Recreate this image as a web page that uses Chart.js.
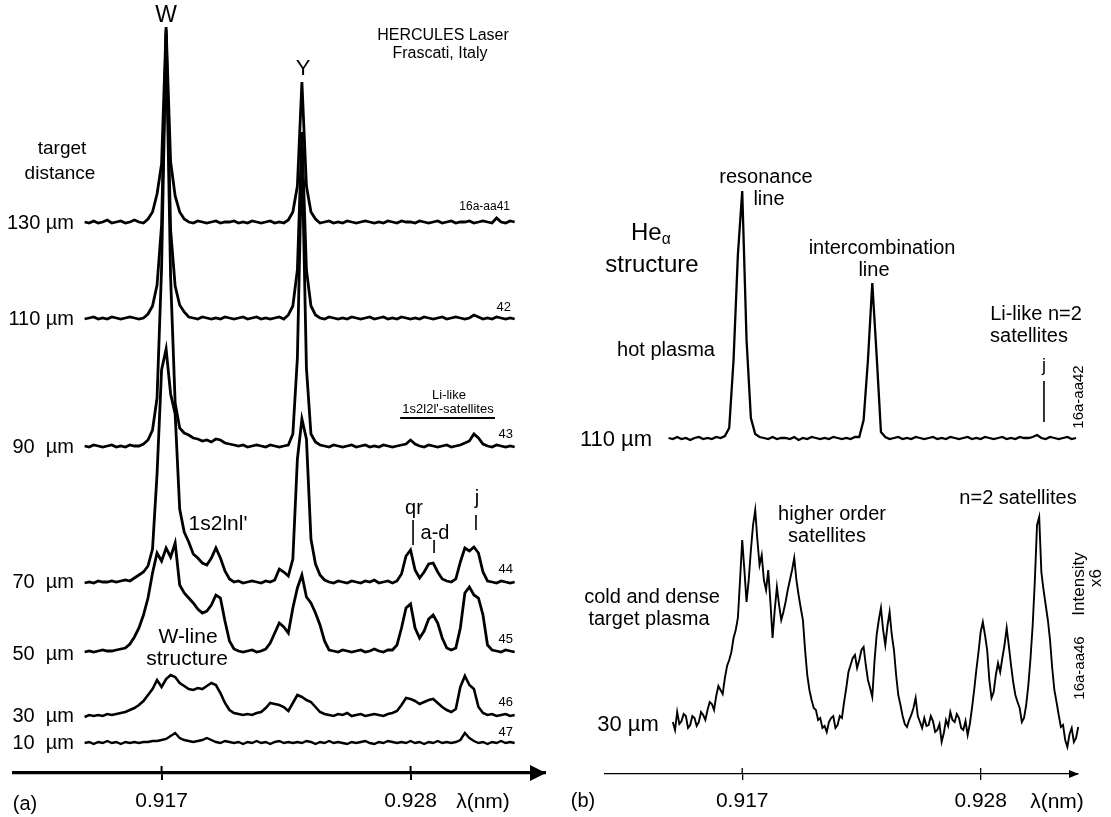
<!DOCTYPE html>
<html>
<head>
<meta charset="utf-8">
<script src="https://cdn.jsdelivr.net/npm/chart.js@4.4.1/dist/chart.umd.min.js"></script>
<style>
  body { margin: 0; background: #fff; }
  #wrap { position: relative; width: 1111px; height: 817px; overflow: hidden;
          font-family: "Liberation Sans", Arial, sans-serif; color: #000; }
  canvas { position: absolute; top: 0; }
  #chartA { left: 0; }
  #chartB { left: 560px; }
  .lbl { position: absolute; white-space: pre; line-height: 1; transform: translate(-50%, -50%); }
  .lbl.r { transform: translate(-100%, -50%); }
  .lbl.l { transform: translate(0, -50%); }
  .lbl.rot { transform: translate(-50%, -50%) rotate(-90deg); }
  .lbl sub { font-size: 65%; vertical-align: -0.25em; }
</style>
</head>
<body>
<div id="wrap">
  <canvas id="chartA" width="560" height="817"></canvas>
  <canvas id="chartB" width="551" height="817"></canvas>
</div>
<script>
// wavelength sampling (nm)
const lamStart = 0.9136;
const lam = Array.from({ length: 96 }, (_, i) => +(lamStart + 0.0002 * i).toFixed(4));
const lamFine = Array.from({ length: 192 }, (_, i) => +(lamStart + 0.0001 * i).toFixed(4));

const tickValues = [0.917, 0.928];

// panel (a): target distance series, intensity above each trace baseline
const distancesA = ["130", "110", "90", "70", "50", "30", "10"];
const t130 = [2,1,3,1,2,4,1,2,3,1,2,4,
  2,1,5,12,30,60,197,62,28,12,5,2,
  1,3,2,1,2,3,1,2,2,3,1,2,
  1,3,2,1,2,3,1,2,1,4,12,38,
  142,38,12,5,1,2,3,1,2,1,3,2,
  1,2,3,2,1,2,1,3,2,1,3,2,
  2,1,3,2,1,2,3,1,2,3,1,2,
  2,3,1,2,3,2,1,6,2,1,3,2];
const t110 = [1,2,3,1,2,1,3,2,1,2,3,2,
  1,2,6,14,35,95,290,90,34,15,8,3,
  2,1,3,2,1,2,1,3,2,1,2,3,
  1,2,3,1,2,1,2,3,1,5,14,50,
  188,50,14,5,2,1,3,2,1,2,1,3,
  2,1,2,3,1,2,3,1,2,1,3,2,
  1,2,1,3,2,1,2,3,1,2,3,2,
  1,2,5,3,1,2,1,3,2,1,2,1];
const t90 = [2,1,3,2,1,2,3,1,2,1,3,2,
  2,4,8,18,50,180,415,170,45,20,15,13,
  10,9,7,8,6,9,8,5,4,3,2,3,
  1,2,3,2,1,3,2,1,2,3,14,90,
  300,80,14,6,3,2,1,3,2,1,2,3,
  1,2,3,1,2,1,3,2,1,2,3,4,
  8,4,2,1,3,2,1,2,3,1,2,3,
  5,7,14,10,4,2,1,3,2,1,2,1];
const t70 = [1,2,1,3,2,2,3,2,3,4,3,6,
  9,12,18,35,110,214,235,190,170,75,52,42,
  30,26,21,19,26,36,26,13,5,2,3,1,
  2,3,2,1,3,2,4,15,12,8,25,125,
  165,145,45,20,9,4,2,1,3,2,1,3,
  2,1,3,2,4,1,2,3,1,3,10,28,
  34,14,6,12,20,21,12,5,3,2,5,22,
  36,33,37,31,12,3,2,1,3,2,1,2];
const t50 = [1,2,1,2,3,2,2,3,4,5,9,16,
  25,38,55,80,100,92,105,96,110,68,60,55,
  50,44,40,42,48,58,55,32,12,4,2,1,
  2,3,1,2,4,10,20,30,26,20,45,65,
  78,56,50,40,28,12,3,2,1,3,2,1,
  2,3,1,2,4,2,1,3,3,8,25,45,
  49,25,15,22,34,38,30,15,5,3,5,25,
  60,66,58,55,38,8,3,2,1,3,2,1];
const t30 = [0,2,1,2,1,3,2,3,4,5,7,9,
  12,16,22,28,37,30,38,42,40,34,31,28,
  27,29,28,31,34,32,24,14,7,4,3,2,
  3,2,4,5,9,14,13,12,10,6,14,22,
  20,17,15,10,5,3,2,1,3,2,4,1,
  2,3,1,2,3,2,1,3,4,6,12,19,
  18,16,13,15,17,18,14,10,7,5,8,30,
  41,32,28,10,4,2,3,1,2,3,1,2];
const t10 = [1,2,0,2,1,3,1,2,0,2,1,2,
  1,2,2,3,3,4,5,8,11,6,4,3,
  2,3,4,6,4,2,1,3,2,1,2,0,
  2,1,3,1,2,0,2,3,1,2,1,2,
  1,3,2,0,2,1,3,1,2,1,0,2,
  1,2,3,1,0,2,1,3,2,1,2,1,
  3,1,2,0,2,1,3,1,2,1,2,4,
  11,6,3,1,2,0,2,1,3,1,2,1];
const offsetsA = [549, 453, 325, 189, 120, 56, 29];

// panel (b): 110 um hot plasma (coarse grid) and 30 um x6 dense plasma (fine grid)
const r110 = [2,1,3,1,2,0,2,3,1,2,1,3,
  2,4,12,80,185,249,100,22,6,3,2,1,
  3,1,2,2,1,3,0,2,1,3,2,1,
  2,1,3,2,1,2,1,3,3,20,80,157,
  85,8,3,1,2,3,1,2,1,3,2,1,
  2,3,1,2,1,3,2,1,2,3,1,2,
  1,3,2,1,2,3,1,2,1,3,2,2,
  3,5,2,1,3,2,1,2,3,1,2,null];
const r30 = [null,null,8,0,18,6,9,16,14,2,
  5,14,12,4,8,18,15,10,20,28,
  26,20,34,44,40,36,52,64,70,78,
  92,100,112,150,190,160,128,150,180,205,
  220,190,165,175,150,140,160,128,92,120,
  143,125,110,118,128,140,150,160,172,150,
  135,122,110,80,55,40,30,22,20,10,
  12,2,4,-2,8,12,14,2,5,14,
  12,28,42,58,65,72,75,62,70,80,
  83,65,50,42,33,68,95,110,122,100,
  85,104,118,95,80,55,35,25,14,6,
  3,10,15,22,32,14,8,2,12,4,
  5,14,9,-2,0,6,-12,-3,10,4,
  18,10,8,16,12,2,0,9,-5,6,
  22,40,60,78,98,108,95,80,50,32,
  38,55,67,58,72,85,102,84,65,48,
  35,28,22,8,12,25,45,72,105,150,
  205,213,158,140,125,110,90,62,40,28,
  15,3,5,-10,-17,-4,2,-12,-8,3,
  -5,-14];
const offsetsB = [334, 44];

const FONT = '"Liberation Sans", Arial, sans-serif';

function makeTrace(grid, s, offset, width) {
  return {
    data: grid.map((x, i) => ({ x, y: s[i] === null ? null : s[i] + offset })),
    borderColor: "#000",
    borderWidth: width,
    pointRadius: 0,
    tension: 0,
    clip: false,
    spanGaps: false,
  };
}

// tick marks above the axis, arrow head, marker lines
const axisDecor = {
  id: "axisDecor",
  afterDraw(chart, args, o) {
    const { ctx, chartArea: a, scales: { x, y } } = chart;
    ctx.save();
    ctx.strokeStyle = "#000";
    ctx.fillStyle = "#000";
    ctx.lineWidth = o.tickW;
    x.ticks.forEach((t) => {
      const px = x.getPixelForValue(t.value);
      ctx.beginPath();
      ctx.moveTo(px, a.bottom - o.tickUp);
      ctx.lineTo(px, a.bottom);
      ctx.stroke();
    });
    ctx.beginPath();
    ctx.moveTo(a.right + 1, a.bottom);
    ctx.lineTo(a.right - o.head[0], a.bottom - o.head[1]);
    ctx.lineTo(a.right - o.head[0], a.bottom + o.head[1]);
    ctx.closePath();
    ctx.fill();
    o.marks.forEach((m) => {
      ctx.lineWidth = m.w;
      ctx.beginPath();
      ctx.moveTo(x.getPixelForValue(m.x0), y.getPixelForValue(m.y0));
      ctx.lineTo(x.getPixelForValue(m.x1), y.getPixelForValue(m.y1));
      ctx.stroke();
    });
    ctx.restore();
  },
};

function makeOptions(xr, yr, axisH, pad, axisW, decor) {
  return {
    responsive: false,
    maintainAspectRatio: false,
    devicePixelRatio: 1,
    animation: false,
    events: [],
    layout: { padding: { left: pad[0], right: pad[1], top: 0, bottom: 0 } },
    plugins: { legend: { display: false }, tooltip: { enabled: false }, axisDecor: decor },
    scales: {
      x: {
        type: "linear",
        min: xr[0],
        max: xr[1],
        border: { display: true, color: "#000", width: axisW },
        grid: { drawOnChartArea: false, drawTicks: true, tickLength: decor.tickUp, color: "#000", lineWidth: decor.tickW },
        ticks: {
          color: "#000",
          font: { family: FONT, size: 21 },
          padding: 9,
          maxRotation: 0,
          autoSkip: false,
          callback: (v) => v.toFixed(3),
        },
        afterBuildTicks: (s) => { s.ticks = tickValues.map((v) => ({ value: v })); },
        afterFit: (s) => { s.height = axisH; },
      },
      y: { display: false, min: yr[0], max: yr[1] },
    },
  };
}

const seriesA = [t130, t110, t90, t70, t50, t30, t10];
const widthsA = [2.8, 2.8, 2.8, 2.8, 2.8, 2.6, 2.4];

new Chart(document.getElementById("chartA"), {
  type: "line",
  data: { datasets: seriesA.map((s, k) => makeTrace(lam, s, offsetsA[k], widthsA[k])) },
  options: makeOptions([0.91048, 0.93394], [0, 773], 44, [14, 15], 3.2, {
    tickW: 2, tickUp: 7, head: [15, 8],
    marks: [
      { x0: 0.92811, x1: 0.92811, y0: 228, y1: 253, w: 1.6 },
      { x0: 0.92904, x1: 0.92904, y0: 220, y1: 233, w: 1.6 },
      { x0: 0.93089, x1: 0.93089, y0: 243, y1: 258, w: 1.6 },
      { x0: 0.92754, x1: 0.93173, y0: 355, y1: 355, w: 2 },
    ],
  }),
  plugins: [axisDecor],
});

new Chart(document.getElementById("chartB"), {
  type: "line",
  data: { datasets: [makeTrace(lam, r110, offsetsB[0], 2.3), makeTrace(lamFine, r30, offsetsB[1], 1.9)] },
  options: makeOptions([0.91067, 0.93249], [0, 774], 43, [45, 33], 1.3, {
    tickW: 1.3, tickUp: 6, head: [9, 4],
    marks: [{ x0: 0.93092, x1: 0.93092, y0: 352, y1: 393, w: 1.6 }],
  }),
  plugins: [axisDecor],
});

// text annotations: [text, x, y, size, anchor]
const notes = [
  ["W", 166, 14, 23],
  ["Y", 303, 68, 22],
  ["HERCULES Laser", 443, 35, 16],
  ["Frascati, Italy", 440, 53, 16],
  ["target", 62, 147, 19],
  ["distance", 60, 172, 19],
  ["16a-aa41", 510, 206, 12, "r"],
  ["42", 511, 306, 13, "r"],
  ["43", 513, 433, 13, "r"],
  ["44", 513, 568, 13, "r"],
  ["45", 513, 638, 13, "r"],
  ["46", 513, 701, 13, "r"],
  ["47", 513, 731, 13, "r"],
  ["Li-like", 449, 394, 13],
  ["1s2l2l'-satellites", 448, 408, 13],
  ["1s2lnl'", 218, 522, 21],
  ["qr", 414, 507, 20],
  ["a-d", 435, 532, 20],
  ["j", 477, 497, 20],
  ["W-line", 188, 635, 21],
  ["structure", 187, 657, 21],
  ["(a)", 25, 803, 20],
  ["λ(nm)", 483, 800, 21],
  ["He<sub>α</sub>", 631, 233, 24, "l"],
  ["structure", 652, 264, 24],
  ["resonance", 766, 176, 20],
  ["line", 769, 198, 20],
  ["intercombination", 882, 247, 20],
  ["line", 874, 269, 20],
  ["hot plasma", 666, 349, 20],
  ["Li-like n=2", 1036, 313, 20],
  ["satellites", 1029, 335, 20],
  ["j", 1044, 365, 18],
  ["16a-aa42", 1077, 397, 15, "rot"],
  ["110 µm", 616, 439, 22],
  ["n=2 satellites", 1018, 497, 20],
  ["higher order", 832, 513, 20],
  ["satellites", 827, 535, 20],
  ["cold and dense", 652, 596, 20],
  ["target plasma", 649, 618, 20],
  ["Intensity", 1078, 584, 17, "rot"],
  ["x6", 1095, 578, 17, "rot"],
  ["16a-aa46", 1078, 668, 15, "rot"],
  ["30 µm", 628, 724, 22],
  ["(b)", 583, 800, 20],
  ["λ(nm)", 1057, 800, 21],
];
const distanceY = [222, 318, 446, 581, 653, 715, 742];
distancesA.forEach((d, k) => {
  notes.push([d + (d.length > 2 ? " " : "  ") + "µm", 74, distanceY[k], 20, "r"]);
});

const wrap = document.getElementById("wrap");
notes.forEach(([t, x, y, size, cls]) => {
  const el = document.createElement("div");
  el.className = "lbl" + (cls ? " " + cls : "");
  el.innerHTML = t;
  el.style.left = x + "px";
  el.style.top = y + "px";
  el.style.fontSize = size + "px";
  wrap.appendChild(el);
});
</script>
</body>
</html>
